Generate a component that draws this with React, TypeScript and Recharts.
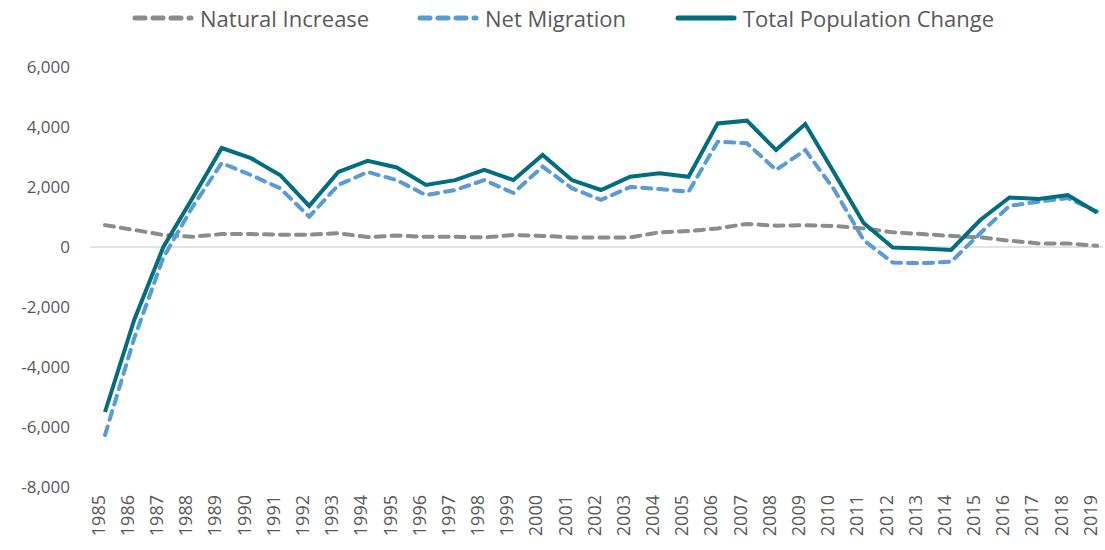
import { LineChart, Line, XAxis, YAxis, ReferenceLine } from "recharts";

const YEARS = [
  "1985", "1986", "1987", "1988", "1989", "1990", "1991", "1992", "1993", "1994",
  "1995", "1996", "1997", "1998", "1999", "2000", "2001", "2002", "2003", "2004",
  "2005", "2006", "2007", "2008", "2009", "2010", "2011", "2012", "2013", "2014",
  "2015", "2016", "2017", "2018", "2019",
];

const NATURAL = [
  730, 570, 400, 340, 430, 430, 410, 410, 460, 330,
  380, 340, 340, 320, 400, 370, 320, 320, 320, 490,
  530, 620, 770, 710, 730, 700, 620, 490, 430, 370,
  320, 210, 120, 120, 40,
];

const MIGRATION = [
  -6270, -3050, -350, 1340, 2800, 2400, 1960, 1010, 2070, 2500,
  2230, 1730, 1900, 2230, 1800, 2680, 1960, 1570, 2000, 1930,
  1840, 3510, 3460, 2570, 3230, 1900, 230, -520, -540, -490,
  460, 1370, 1510, 1630, 1180,
];

const TOTAL = [
  -5500, -2430, 0, 1630, 3300, 2960, 2400, 1370, 2500, 2870,
  2650, 2070, 2230, 2570, 2230, 3070, 2230, 1900, 2340, 2460,
  2340, 4120, 4210, 3230, 4100, 2460, 800, -20, -50, -100,
  900, 1650, 1600, 1730, 1150,
];

const Y_TICKS = [-8000, -6000, -4000, -2000, 0, 2000, 4000, 6000];

const GRAY = "#8a8c8e";
const BLUE = "#5b9bd5";
const TEAL = "#006e7f";
const TEXT = "#595959";
const FONT = "'Open Sans', sans-serif";

const data = YEARS.map((year, i) => ({
  year,
  natural: NATURAL[i],
  migration: MIGRATION[i],
  total: TOTAL[i],
}));

const LEGEND = [
  { label: "Natural Increase", color: GRAY, dash: "10 8", x: 132 },
  { label: "Net Migration", color: BLUE, dash: "10 8", x: 417 },
  { label: "Total Population Change", color: TEAL, dash: undefined, x: 675 },
];

function Legend() {
  return (
    <div style={{ position: "absolute", left: 0, top: 0, width: 1105, height: 40 }}>
      {LEGEND.map((item) => (
        <div
          key={item.label}
          style={{
            position: "absolute",
            left: item.x,
            top: 3,
            display: "flex",
            alignItems: "center",
            fontFamily: FONT,
            fontSize: 22,
            color: TEXT,
            whiteSpace: "nowrap",
          }}
        >
          <svg width={62} height={10} style={{ marginRight: 6 }}>
            <line
              x1={3}
              y1={5}
              x2={59}
              y2={5}
              stroke={item.color}
              strokeWidth={5}
              strokeLinecap="round"
              strokeDasharray={item.dash}
            />
          </svg>
          {item.label}
        </div>
      ))}
    </div>
  );
}

export default function App() {
  return (
    <div style={{ position: "absolute", left: 0, top: 0, width: 1105, height: 550, background: "#fff" }}>
      <Legend />
      <div style={{ position: "absolute", left: 0, top: 0 }}>
        <LineChart
          width={1105}
          height={550}
          data={data}
          margin={{ top: 67, right: 2, bottom: 3, left: 0 }}
        >
          <XAxis
            dataKey="year"
            interval={0}
            axisLine={false}
            tickLine={false}
            tickSize={0}
            padding={{ left: 15, right: 6 }}
            height={60}
            tick={{ fill: TEXT, fontSize: 18, fontFamily: FONT, angle: -90, textAnchor: "end", dy: 6, dx: -13 }}
          />
          <YAxis
            domain={[-8000, 6000]}
            ticks={Y_TICKS}
            interval={0}
            width={90}
            axisLine={false}
            tickLine={false}
            tickSize={0}
            tickMargin={20}
            tickFormatter={(v: number) => v.toLocaleString("en-US")}
            tick={{ fill: TEXT, fontSize: 17, fontFamily: FONT }}
          />
          <ReferenceLine y={0} stroke="#d9d9d9" strokeWidth={1.5} />
          <Line
            dataKey="natural"
            stroke={GRAY}
            strokeWidth={4}
            strokeDasharray="9 7"
            strokeLinecap="round"
            dot={false}
            type="linear"
            isAnimationActive={false}
          />
          <Line
            dataKey="migration"
            stroke={BLUE}
            strokeWidth={4}
            strokeDasharray="9 7"
            strokeLinecap="round"
            dot={false}
            type="linear"
            isAnimationActive={false}
          />
          <Line
            dataKey="total"
            stroke={TEAL}
            strokeWidth={4}
            dot={false}
            type="linear"
            isAnimationActive={false}
          />
        </LineChart>
      </div>
    </div>
  );
}
